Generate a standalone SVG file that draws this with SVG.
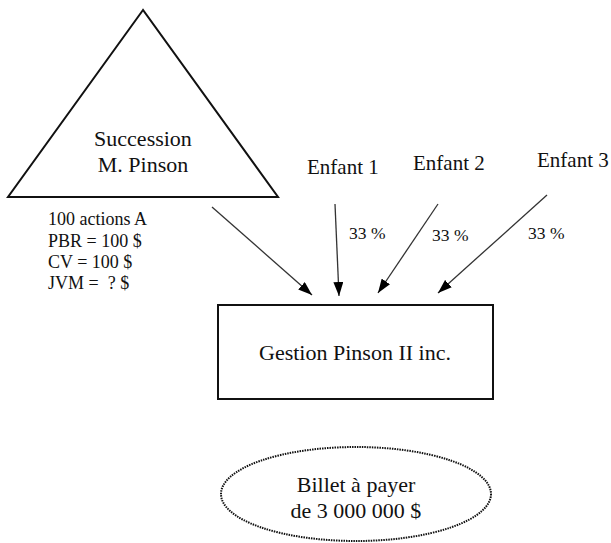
<svg xmlns="http://www.w3.org/2000/svg" width="611" height="543" viewBox="0 0 611 543" font-family="'Liberation Serif', 'DejaVu Serif', serif">
<style>
text{font-family:'Liberation Serif','DejaVu Serif',serif;fill:#111}
.big{font-size:22px}
.mid{font-size:21px}
.sm{font-size:18px}
.pc{font-size:17.5px}
.shape{fill:#fff;stroke:#111;stroke-width:2}
.conn{stroke:#333;stroke-width:1.3;fill:none;marker-end:url(#ah)}
</style>
<defs>
<marker id="ah" viewBox="0 0 14 10" refX="14" refY="5" markerWidth="14" markerHeight="10" markerUnits="userSpaceOnUse" orient="auto">
<path d="M0,0 L14,5 L0,10 Z" fill="#000"/>
</marker>
</defs>
<rect width="611" height="543" fill="#fff"/>
<g id="succession">
<polygon class="shape" points="143,10 8,197 278,197"/>
<text class="big" x="143" y="146" text-anchor="middle">Succession</text>
<text class="big" x="143" y="172" text-anchor="middle">M. Pinson</text>
</g>
<g id="actions">
<text class="sm" x="48" y="225">100 actions A</text>
<text class="sm" x="48" y="247">PBR = 100 $</text>
<text class="sm" x="48" y="268">CV = 100 $</text>
<text class="sm" x="48" y="289">JVM =&#160; ? $</text>
</g>
<g id="enfant1"><text class="mid" x="307" y="174">Enfant 1</text></g>
<g id="enfant2"><text class="mid" x="413" y="170">Enfant 2</text></g>
<g id="enfant3"><text class="mid" x="537" y="167">Enfant 3</text></g>
<g id="gestion">
<rect class="shape" x="218" y="305" width="275" height="94"/>
<text class="big" x="355" y="360" text-anchor="middle">Gestion Pinson II inc.</text>
</g>
<g id="billet">
<ellipse cx="356" cy="494" rx="135" ry="47" fill="#fff" stroke="#111" stroke-width="2" stroke-dasharray="1.5 1"/>
<text class="big" x="356" y="492" text-anchor="middle">Billet à payer</text>
<text class="big" x="356" y="518" text-anchor="middle">de 3 000 000 $</text>
</g>
<g id="connectors">
<line class="conn" x1="212" y1="207" x2="312" y2="295"/>
<line class="conn" x1="335" y1="204" x2="339" y2="296"/>
<line class="conn" x1="438" y1="204" x2="378" y2="293"/>
<line class="conn" x1="547" y1="195" x2="438" y2="293"/>
<text class="pc" x="349" y="239">33 %</text>
<text class="pc" x="432" y="241">33 %</text>
<text class="pc" x="528" y="239">33 %</text>
</g>
</svg>
